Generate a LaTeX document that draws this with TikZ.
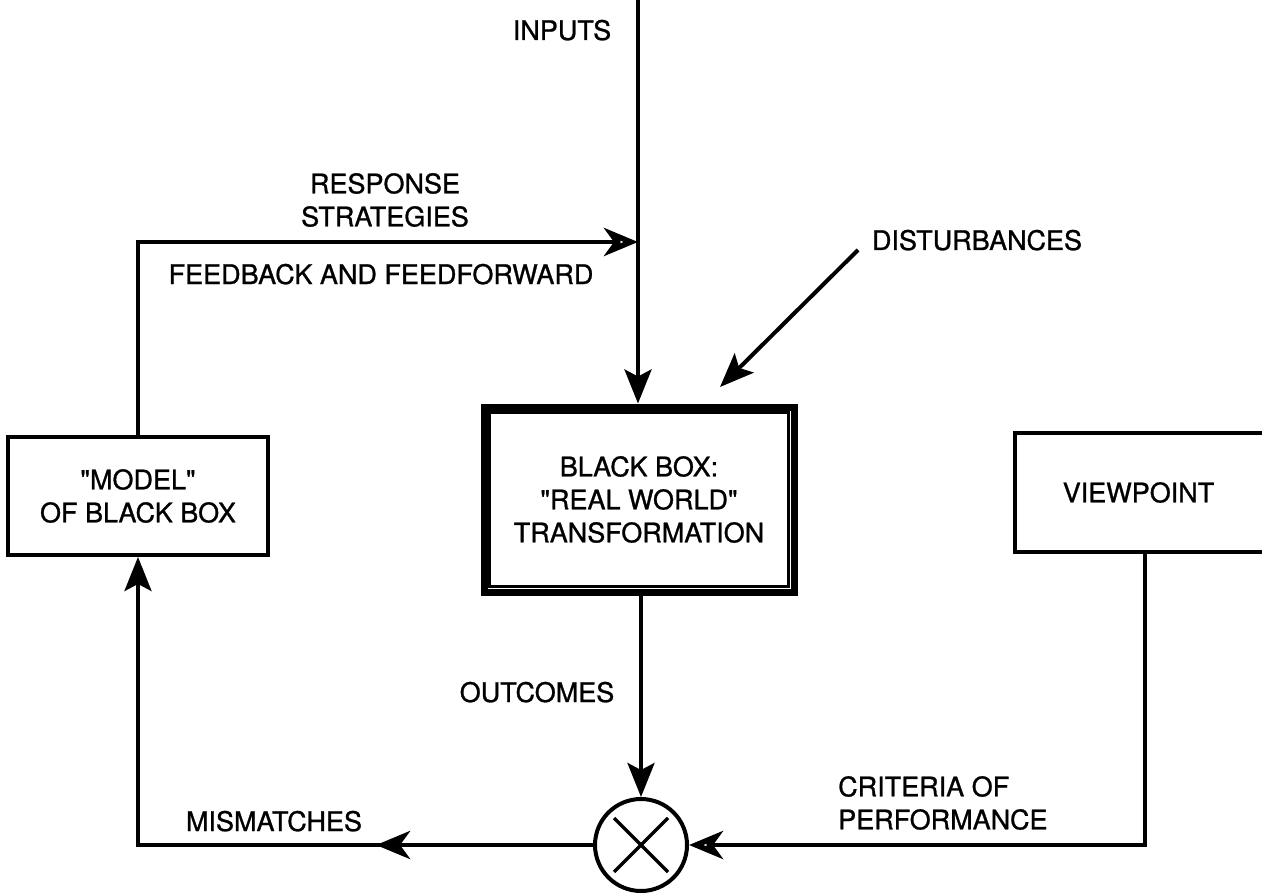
\documentclass[tikz,border=0pt]{standalone}
\usepackage{fontspec}
\setmainfont[FakeBold=1,Ligatures=TeXOff]{TeX Gyre Heros}
\usetikzlibrary{arrows.meta,decorations.markings}
\begin{document}
\begin{tikzpicture}[x=1pt,y=-1pt,
  every node/.style={font=\fontsize{27}{33}\selectfont},
  wire/.style={line width=4pt},
  solidtip/.style={-{Stealth[length=34pt,width=27pt,inset=7pt]}},
  hollowtip/.style={-{Stealth[open,length=34pt,width=28pt,inset=10pt,line width=5.5pt]}},
  block/.style={draw,line width=4pt,align=center,inner sep=0pt},
  lbl/.style={anchor=base,inner sep=0pt},
]
\useasboundingbox (0,0) rectangle (1268,893);

% boxes
\node[block,minimum width=260pt,minimum height=118pt] (model) at (138,496)
  {"MODEL"\\OF BLACK BOX};
\node[block,line width=7pt,minimum width=310pt,minimum height=185pt] (bb) at (639,499.5)
  {BLACK BOX:\\"REAL WORLD"\\TRANSFORMATION};
\draw[line width=3pt] ([shift={(9,9)}]bb.north west) rectangle ([shift={(-9,-9)}]bb.south east);

% viewpoint box, open towards the right margin
\node[minimum width=247pt,minimum height=119pt,inner sep=0pt] (vp) at (1138.5,492.5) {VIEWPOINT};
\draw[wire] (vp.north east) -- (vp.north west) -- (vp.south west) -- (vp.south east);

% comparator
\node[draw,circle,line width=4pt,minimum size=92pt,inner sep=0pt] (sum) at (641,845) {};
\draw[line width=3.5pt] ([shift={(-27,-27)}]sum.center) -- ([shift={(27,27)}]sum.center);
\draw[line width=3.5pt] ([shift={(-27,27)}]sum.center) -- ([shift={(27,-27)}]sum.center);

% free ends
\coordinate (intop) at (638,0);
\coordinate (fbjoin) at (638,242);
\coordinate (dstart) at (858,250);
\coordinate (dend) at (720,387);

% connectors
\draw[wire,solidtip] (intop) -- (intop |- bb.north);
\draw[wire,hollowtip] (model.north) |- (fbjoin);
\draw[wire,solidtip] (dstart) -- (dend);
\draw[wire,solidtip] (sum.north |- bb.south) -- (sum.north);
\draw[wire,solidtip,
  postaction={decorate,decoration={markings,
    mark=at position 0.292 with {\arrow[line width=4pt]{Stealth[open,length=34pt,width=28pt,inset=10pt,line width=5.5pt]}}}}]
  (sum.west) -| (model.south);
\draw[wire,hollowtip] ([xshift=6.5pt]vp.south) |- (sum.east);

% labels
\node[lbl] (inputs) at (562,40) {INPUTS};
\node[align=center,inner sep=0pt] (resp) at (385,200) {RESPONSE\\STRATEGIES};
\node[lbl] (fbff) at (381,284) {FEEDBACK AND FEEDFORWARD};
\node[lbl] (dist) at (977,250) {DISTURBANCES};
\node[lbl] (outc) at (537,702) {OUTCOMES};
\node[lbl] (mism) at (274,831) {MISMATCHES};
\node[align=left,inner sep=0pt,anchor=west] (crit) at (838,803) {CRITERIA OF\\PERFORMANCE};
\end{tikzpicture}
\end{document}
